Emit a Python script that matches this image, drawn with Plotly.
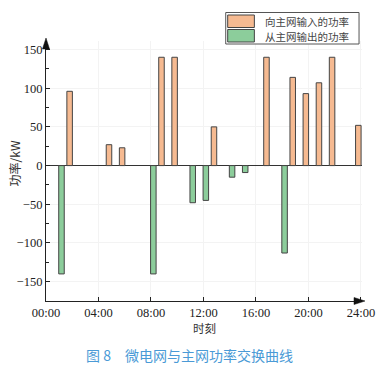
import plotly.graph_objects as go

# ---- data ----
hours = list(range(24))
to_grid = [0, 96, 0, 0, 27, 23, 0, 0, 140, 140, 0, 0, 50, 0, 0, 0, 140, 0, 114, 93, 107, 140, 0, 52]
from_grid = [0, -140, 0, 0, 0, 0, 0, 0, -140, 0, 0, -48, -45, 0, -15, -9, 0, 0, -113, 0, 0, 0, 0, 0]
tick_vals = [0, 4, 8, 12, 16, 20, 24]
tick_text = ["00:00", "04:00", "08:00", "12:00", "16:00", "20:00", "24:00"]
name_to = "向主网输入的功率"
name_from = "从主网输出的功率"

ORANGE = "#f6ba91"
GREEN = "#8ccd9b"
EDGE = "#444444"

W, H = 387, 370
L, R, T, B = 46, 21, 41, 69
pw, ph = W - L - R, H - T - B


def px(x):
    return (x - L) / pw


def py(y):
    return (H - B - y) / ph


xs_to = [h for h, v in zip(hours, to_grid) if v != 0]
ys_to = [v for v in to_grid if v != 0]
xs_fr = [h for h, v in zip(hours, from_grid) if v != 0]
ys_fr = [v for v in from_grid if v != 0]

fig = go.Figure()
fig.add_trace(go.Bar(x=xs_fr, y=ys_fr, name=name_from, offset=-0.03, width=0.42,
                     marker=dict(color=GREEN, line=dict(color=EDGE, width=1)), showlegend=False))
fig.add_trace(go.Bar(x=xs_to, y=ys_to, name=name_to, offset=0.59, width=0.42,
                     marker=dict(color=ORANGE, line=dict(color=EDGE, width=1)), showlegend=False))

serif = "Liberation Serif, Times New Roman, serif"
cjk = "Noto Sans CJK SC"

fig.update_layout(
    width=W, height=H,
    margin=dict(l=L, r=R, t=T, b=B, pad=0),
    paper_bgcolor="white", plot_bgcolor="white",
    barmode="overlay",
    xaxis=dict(range=[0, 24.08], tickvals=tick_vals, ticktext=tick_text, ticks="inside", ticklen=4,
               tickcolor="#222", showline=True, linecolor="#222", linewidth=1.2, mirror=False,
               showgrid=True, gridcolor="#f3f3f3", zeroline=False,
               tickfont=dict(family=serif, size=12.5, color="#222")),
    yaxis=dict(range=[-175, 161], tickvals=[-150, -100, -50, 0, 50, 100, 150],
               ticktext=["−150", "−100", "−50", "0", "50", "100", "150"], ticks="inside",
               ticklen=4, tickcolor="#222", showline=True, linecolor="#222", linewidth=1.2, mirror=False,
               showgrid=True, gridcolor="#f3f3f3",
               zeroline=True, zerolinecolor="#333", zerolinewidth=1,
               tickfont=dict(family=serif, size=12.5, color="#222"),
               minor=dict(tickvals=[-125, -75, -25, 25, 75, 125], ticks="inside", ticklen=3,
                          tickcolor="#222", showgrid=False)),
    showlegend=False,
)

shapes = []
annotations = []
# arrow heads at axis ends (pixel-sized triangles anchored at the axis ends)
shapes.append(dict(type="path", xref="paper", yref="paper", xsizemode="pixel", ysizemode="pixel",
                   xanchor=1.0, yanchor=0.0, path="M 3,0 L -8,3.5 L -8,-3.5 Z",
                   fillcolor="#111", line=dict(color="#111", width=0.5), layer="above"))
shapes.append(dict(type="path", xref="paper", yref="paper", xsizemode="pixel", ysizemode="pixel",
                   xanchor=0.0, yanchor=1.0, path="M 0,3 L -3.5,-8 L 3.5,-8 Z",
                   fillcolor="#111", line=dict(color="#111", width=0.5), layer="above"))

# legend box (drawn manually)
shapes.append(dict(type="rect", xref="paper", yref="paper", x0=px(228), x1=px(363), y0=py(44), y1=py(12.5),
                   line=dict(color="#555", width=1), fillcolor="white", layer="above"))
for i, (col, name) in enumerate([(ORANGE, name_to), (GREEN, name_from)]):
    y0 = 15 + i * 14.5
    shapes.append(dict(type="rect", xref="paper", yref="paper", x0=px(230), x1=px(257), y0=py(y0 + 12.5),
                       y1=py(y0), line=dict(color=EDGE, width=1), fillcolor=col, layer="above"))
    annotations.append(dict(x=px(266), y=py(y0 + 6.5), xref="paper", yref="paper", text=name,
                            showarrow=False, xanchor="left", yanchor="middle",
                            font=dict(family=cjk, size=10.5, color="#444")))

# axis titles
annotations.append(dict(x=px(206), y=py(328), xref="paper", yref="paper", text="时刻", showarrow=False,
                        xanchor="center", yanchor="middle", font=dict(family=cjk, size=11.5, color="#333")))
annotations.append(dict(x=px(14), y=py(163), xref="paper", yref="paper", text="功率/kW", showarrow=False,
                        textangle=-90, xanchor="center", yanchor="middle",
                        font=dict(family=cjk, size=12, color="#333")))
# caption
annotations.append(dict(x=px(191), y=py(355), xref="paper", yref="paper",
                        text="图 8　微电网与主网功率交换曲线", showarrow=False, xanchor="center",
                        yanchor="middle", font=dict(family=cjk, size=14, color="#4a9ad6")))

fig.update_layout(shapes=shapes, annotations=annotations)
fig.write_html("out.html")
